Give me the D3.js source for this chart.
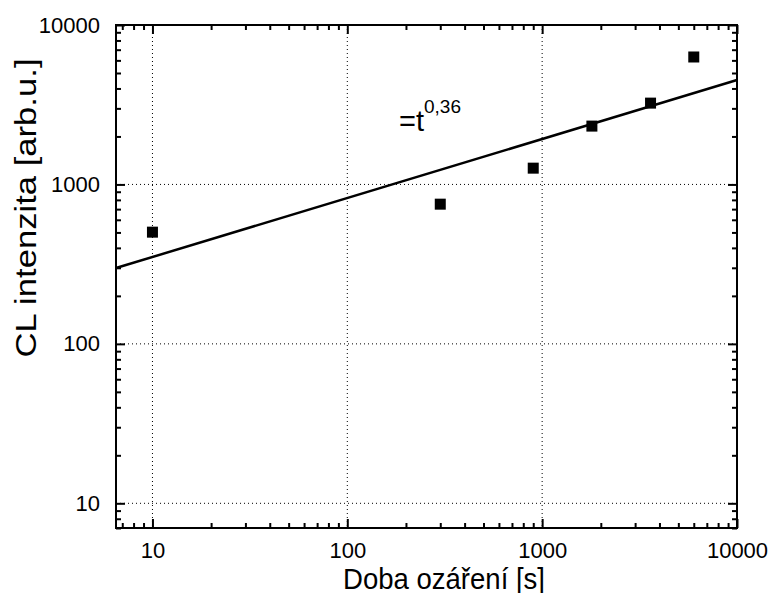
<!DOCTYPE html>
<meta charset="utf-8">
<html>
<head>
<style>
  body { margin: 0; background: #fff; }
  svg { font-family: Arial, "Liberation Sans", sans-serif; }
  .grid line { stroke: #000; stroke-width: 1; stroke-dasharray: 1,3; }
  .tk path { display: none; }
  .tk line { stroke: #000; stroke-width: 2; }
</style>
<script src="https://d3js.org/d3.v7.min.js"></script>
</head>
<body>
<svg width="774" height="593"></svg>
<script>

// measured values
var times = [10, 300, 900, 1800, 3600, 6000];
var intensity = [502, 752, 1265, 2322, 3236, 6300];
// power-law fit t^0.36, end points
var fitT = [6.5, 10000];
var fitI = [299, 4520];

var xMajor = [10, 100, 1000, 10000];
var yMajor = [10, 100, 1000, 10000];
var xDomain = [6.5, 10000];
var yDomain = [7, 10000];

var svg = d3.select("svg"),
    margin = {top: 25, right: 37, bottom: 65, left: 116},
    width = +svg.attr("width") - margin.left - margin.right,
    height = +svg.attr("height") - margin.top - margin.bottom,
    g = svg.append("g").attr("transform", "translate(" + margin.left + "," + margin.top + ")");

var x = d3.scaleLog().domain(xDomain).range([0, width]),
    y = d3.scaleLog().domain(yDomain).range([height, 0]);

var xMinor = x.ticks().filter(function(d) { return xMajor.indexOf(d) < 0; }),
    yMinor = y.ticks().filter(function(d) { return yMajor.indexOf(d) < 0; });

// dotted grid
g.append("g").attr("class", "grid")
  .selectAll("line").data(xMajor.slice(0, 3)).enter().append("line")
  .attr("x1", function(d) { return x(d); }).attr("x2", function(d) { return x(d); })
  .attr("y1", 0).attr("y2", height);
g.append("g").attr("class", "grid")
  .selectAll("line").data(yMajor.slice(0, 3)).enter().append("line")
  .attr("y1", function(d) { return y(d); }).attr("y2", function(d) { return y(d); })
  .attr("x1", 0).attr("x2", width);

// bottom axis with labels
var xb = g.append("g").attr("class", "tk")
  .attr("transform", "translate(0," + height + ")")
  .call(d3.axisBottom(x).tickValues(xMajor).tickSize(-9).tickPadding(14)
        .tickFormat(d3.format("d")));
xb.selectAll("text").attr("font-size", "22px").attr("fill", "#000")
  .attr("font-family", "Arial, 'Liberation Sans', sans-serif");
g.append("g").attr("class", "tk")
  .attr("transform", "translate(0," + height + ")")
  .call(d3.axisBottom(x).tickValues(xMinor).tickSize(-5).tickFormat(""));

// top axis
g.append("g").attr("class", "tk")
  .call(d3.axisTop(x).tickValues(xMajor).tickSize(-9).tickFormat(""));
g.append("g").attr("class", "tk")
  .call(d3.axisTop(x).tickValues(xMinor).tickSize(-5).tickFormat(""));

// left axis with labels
var yl = g.append("g").attr("class", "tk")
  .call(d3.axisLeft(y).tickValues(yMajor).tickSize(-9).tickPadding(16)
        .tickFormat(d3.format("d")));
yl.selectAll("text").attr("font-size", "22px").attr("fill", "#000")
  .attr("font-family", "Arial, 'Liberation Sans', sans-serif");
g.append("g").attr("class", "tk")
  .call(d3.axisLeft(y).tickValues(yMinor).tickSize(-5).tickFormat(""));

// right axis
g.append("g").attr("class", "tk")
  .attr("transform", "translate(" + width + ",0)")
  .call(d3.axisRight(y).tickValues(yMajor).tickSize(-9).tickFormat(""));
g.append("g").attr("class", "tk")
  .attr("transform", "translate(" + width + ",0)")
  .call(d3.axisRight(y).tickValues(yMinor).tickSize(-5).tickFormat(""));

// frame
g.append("rect")
  .attr("width", width).attr("height", height)
  .attr("fill", "none").attr("stroke", "#000").attr("stroke-width", 2);

// fit line
var fit = fitT.map(function(t, i) { return {t: t, v: fitI[i]}; });
g.append("path")
  .datum(fit)
  .attr("fill", "none").attr("stroke", "#000").attr("stroke-width", 2.5)
  .attr("d", d3.line().x(function(d) { return x(d.t); }).y(function(d) { return y(d.v); }));

// data squares
var pts = times.map(function(t, i) { return {t: t, v: intensity[i]}; });
g.selectAll(".pt").data(pts).enter().append("rect")
  .attr("class", "pt")
  .attr("x", function(d) { return x(d.t) - 5.5; })
  .attr("y", function(d) { return y(d.v) - 5.5; })
  .attr("width", 11).attr("height", 11)
  .attr("fill", "#000");

// annotation
var ann = svg.append("text")
  .attr("x", 399).attr("y", 131)
  .attr("font-size", "29px").attr("fill", "#000");
ann.append("tspan").text("=t");
ann.append("tspan").attr("dy", -18).attr("font-size", "19px").text("0,36");

// axis titles
svg.append("text")
  .attr("x", 444).attr("y", 589)
  .attr("text-anchor", "middle").attr("font-size", "29px").attr("fill", "#000")
  .attr("textLength", 202).attr("lengthAdjust", "spacingAndGlyphs")
  .text("Doba ozáření [s]");

svg.append("text")
  .attr("transform", "translate(36,208) rotate(-90)")
  .attr("text-anchor", "middle").attr("font-size", "30px").attr("fill", "#000")
  .attr("textLength", 299).attr("lengthAdjust", "spacingAndGlyphs")
  .text("CL intenzita [arb.u.]");

</script>
</body>
</html>
